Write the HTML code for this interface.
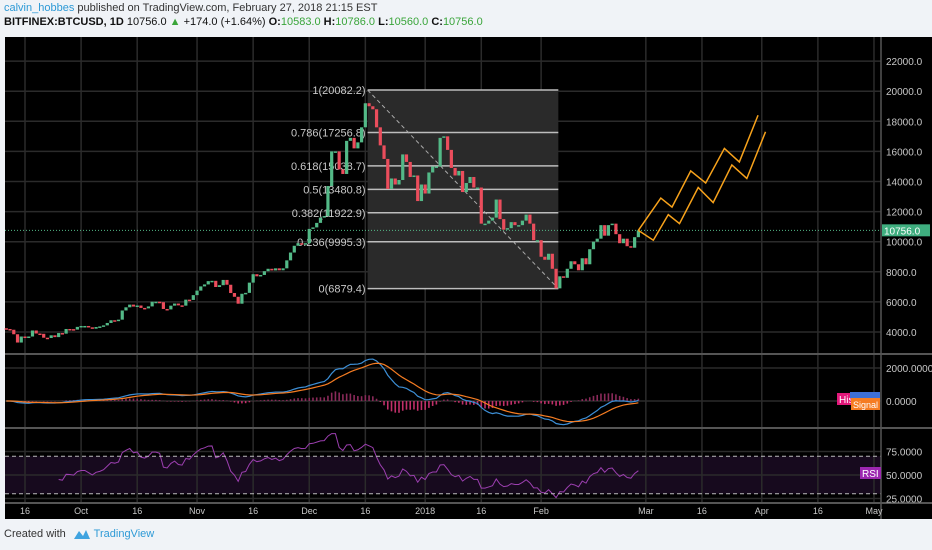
<!DOCTYPE html>
<html><head><meta charset="utf-8">
<style>
body{margin:0;width:932px;height:550px;background:#f0f3f7;font-family:"Liberation Sans",sans-serif;overflow:hidden;position:relative}
#hdr1{position:absolute;left:4px;top:2px;font-size:11px;color:#333;white-space:nowrap}
#hdr2{position:absolute;left:4px;top:16px;font-size:11px;color:#111;white-space:nowrap}
.g{color:#3aa53a}
#foot{position:absolute;left:4px;top:528px;font-size:11px;color:#333}
svg{position:absolute;left:0;top:0}
</style></head><body>
<div id="hdr1"><span style="color:#2e9ad6">calvin_hobbes</span> published on TradingView.com, February 27, 2018 21:15 EST</div>
<div id="hdr2"><b>BITFINEX:BTCUSD, 1D</b> 10756.0 <span class="g">▲</span> +174.0 (+1.64%) <b>O:</b><span class="g">10583.0</span> <b>H:</b><span class="g">10786.0</span> <b>L:</b><span class="g">10560.0</span> <b>C:</b><span class="g">10756.0</span></div>
<div id="foot">Created with <span style="color:#2e9ad6;margin-left:4px"><svg width="18" height="12" style="position:relative;vertical-align:middle" viewBox="0 0 18 12"><path d="M1 11 L6 3 L10 8 L13 2 L17 11 Z" fill="#3fa3e0"/></svg> TradingView</span></div>
<svg id="chart" width="932" height="550"></svg>
<script>
const closes=[4200,4150,3850,3300,3700,3680,3700,4100,3900,3880,3620,3600,3780,3660,3930,3890,4200,4190,4160,4340,
4400,4400,4310,4220,4330,4370,4440,4600,4780,4760,4820,5430,5640,5820,5690,5760,5600,5570,5700,6010,6010,5980,5530,5500,5750,5890,5770,5750,6150,6130,6450,
6750,7030,7160,7380,7400,6990,7110,7460,7140,6590,6340,5880,6540,6600,7280,7840,7700,7790,8040,8200,8090,8230,8100,8230,8760,9280,9730,9900,9850,9900,
10850,10950,11250,11600,11700,13700,16000,16000,14800,14500,16700,16900,16200,16600,17600,19200,19000,18800,17600,16400,15500,13500,14200,13800,14100,15800,15300,14300,14400,12700,13800,
13200,14600,15000,15000,16900,17000,16100,14900,14400,14700,13300,13900,14300,13600,13600,11200,11200,11400,11600,12800,11500,10800,10900,11300,11100,11100,11400,11800,11200,10100,10100,
9000,8800,9200,8200,6900,7700,7600,8200,8700,8500,8100,8900,8500,9500,10000,10200,11100,10400,11100,11200,10500,9900,10200,9700,9600,10300,10756];
const firstOpen=4250;
const priceTicks=[22000,20000,18000,16000,14000,12000,10000,8000,6000,4000];
const timeLabels=["16","Oct","16","Nov","16","Dec","16","2018","16","Feb","Mar","16","Apr","16","May"];
const timeDays=[5,20,35,51,66,81,96,112,127,143,171,186,202,217,232];
const fibLevels=[1,0.786,0.618,0.5,0.382,0.236,0];
const fibHigh=20082.2, fibLow=6879.4;
const macdTicks=[2000,0];
const rsiTicks=[75,50,25];
const projA=[[0,10756],[6,12900],[9,12300],[14,14700],[18,13900],[23,16200],[27,15300],[32,18400]];
const projB=[[0,10756],[4,10100],[8,11800],[11,11200],[16,13600],[20,12600],[25,15100],[29,14200],[34,17300]];

const NS="http://www.w3.org/2000/svg";
const svg=document.getElementById('chart');
function mk(t,a,p){const e=document.createElementNS(NS,t);for(const k in a)e.setAttribute(k,a[k]);(p||svg).appendChild(e);return e;}
const X=d=>25+(d-5)*3.74;
const Y=p=>332-(p-4000)*0.01505;
const YM=v=>401-v*0.0165;
const YR=v=>475-(v-50)*0.94;
const lastIdx=closes.length-1;

let e=mk('rect',{x:5,y:37,width:927,height:482,fill:'#000'});

e=mk('rect',{x:5,y:YR(70),width:876,height:YR(30)-YR(70),fill:'#170a1e'});

timeDays.forEach(d=>{e=mk('line',{x1:X(d),x2:X(d),y1:37,y2:503,stroke:'#2b2b2b','stroke-width':1.5});
});
priceTicks.forEach(p=>{e=mk('line',{x1:5,x2:881,y1:Y(p),y2:Y(p),stroke:'#2b2b2b','stroke-width':1.5});
});
macdTicks.forEach(v=>{e=mk('line',{x1:5,x2:881,y1:YM(v),y2:YM(v),stroke:'#2b2b2b','stroke-width':1.5});
});
rsiTicks.forEach(v=>{e=mk('line',{x1:5,x2:881,y1:YR(v),y2:YR(v),stroke:'#2b2b2b','stroke-width':1.5});
});
const fx1=X(96.6),fx2=X(147.6);
e=mk('rect',{x:fx1,y:Y(fibHigh),width:fx2-fx1,height:Y(fibLow)-Y(fibHigh),fill:'#2a2a2a'});

fibLevels.forEach(l=>{const p=fibLow+(fibHigh-fibLow)*l;
e=mk('line',{x1:fx1,x2:fx2,y1:Y(p),y2:Y(p),stroke:'#bdbdbd','stroke-width':1.5});

e=mk('text',{x:fx1-2,y:Y(p)+4,fill:'#c8c8c8','font-size':11,'text-anchor':'end'});e.textContent=l+'('+p.toFixed(1)+')';
});
e=mk('line',{x1:fx1,y1:Y(fibHigh),x2:fx2,y2:Y(fibLow),stroke:'#aaa','stroke-dasharray':'4,3'});

closes.forEach((c,i)=>{const o=i?closes[i-1]:firstOpen;const up=c>=o;
const y1=Y(Math.max(o,c)),y2=Y(Math.min(o,c));
e=mk('rect',{x:X(i)-1.6,y:y1,width:3.2,height:Math.max(1.5,y2-y1),fill:up?'#53b987':'#eb4d5c'});
});
e=mk('line',{x1:5,x2:881,y1:Y(closes[lastIdx]),y2:Y(closes[lastIdx]),stroke:'#53b987','stroke-dasharray':'1,2'});

[projA,projB].forEach((pr,k)=>{e=mk('polyline',{points:pr.map(q=>X(lastIdx+q[0])+','+Y(q[1])).join(' '),fill:'none',stroke:'#f7a21b','stroke-width':1.5});
});
function ema(a,n){const k=2/(n+1);let r=[],v=a[0];a.forEach(x=>{v=x*k+v*(1-k);r.push(v);});return r;}
const e12=ema(closes,12),e26=ema(closes,26);const macd=closes.map((_,i)=>e12[i]-e26[i]);const sig=ema(macd,9);
macd.forEach((m,i)=>{const h=m-sig[i];e=mk('line',{x1:X(i),x2:X(i),y1:YM(0),y2:YM(h),stroke:h>=0?'#8a2a5a':'#c0306a','stroke-width':1.6});
});
e=mk('polyline',{points:macd.map((m,i)=>X(i)+','+YM(m)).join(' '),fill:'none',stroke:'#3d8fd6','stroke-width':1.2});

e=mk('polyline',{points:sig.map((m,i)=>X(i)+','+YM(m)).join(' '),fill:'none',stroke:'#f57c22','stroke-width':1.2});

let ag=0,al=0;const rsi=[];closes.forEach((c,i)=>{const d=i?c-closes[i-1]:0;const g=Math.max(d,0),l=Math.max(-d,0);
if(i<=14){ag+=g/14;al+=l/14;}else{ag=(ag*13+g)/14;al=(al*13+l)/14;}rsi.push(i>=14&&al?100-100/(1+ag/al):null);});
e=mk('polyline',{points:rsi.map((r,i)=>r===null?'':X(i)+','+YR(r)).filter(s=>s).join(' '),fill:'none',stroke:'#9c3fb0','stroke-width':1});

[70,30].forEach(v=>{e=mk('line',{x1:5,x2:881,y1:YR(v),y2:YR(v),stroke:'#bbb','stroke-dasharray':'4,3'});
});
[354,428,503].forEach(y=>{e=mk('line',{x1:5,x2:932,y1:y,y2:y,stroke:'#555','stroke-width':2});
});
e=mk('line',{x1:881,x2:881,y1:37,y2:519,stroke:'#555','stroke-width':1.5});

priceTicks.forEach(p=>{e=mk('text',{x:886,y:Y(p)+4,fill:'#c8c8c8','font-size':10});e.textContent=p.toFixed(1);
});
macdTicks.forEach(v=>{e=mk('text',{x:886,y:YM(v)+4,fill:'#c8c8c8','font-size':10});e.textContent=v.toFixed(4);
});
rsiTicks.forEach(v=>{e=mk('text',{x:886,y:YR(v)+4,fill:'#c8c8c8','font-size':10});e.textContent=v.toFixed(4);
});
timeLabels.forEach((t,i)=>{e=mk('text',{x:X(timeDays[i]),y:514,fill:'#c8c8c8','font-size':9,'text-anchor':'middle'});e.textContent=t;
});
function badge(x,y,w,bg,txt,name,fs){const r=mk('rect',{x:x,y:y,width:w,height:12,fill:bg});

const t=mk('text',{x:x+2,y:y+10,fill:'#fff','font-size':fs||10});t.textContent=txt;
}
badge(882,Y(closes[lastIdx])-6,48,'#3fae7f','10756.0','last-price-badge');
badge(837,393,20,'#e2187a','His','hist-badge');
e=mk('rect',{x:850,y:392,width:30,height:6,fill:'#3d6fd6'});
badge(851,398,29,'#f57c22','Signal','signal-badge',9);
badge(860,467,21,'#9c27b0','RSI','rsi-badge');
</script>
</body></html>
